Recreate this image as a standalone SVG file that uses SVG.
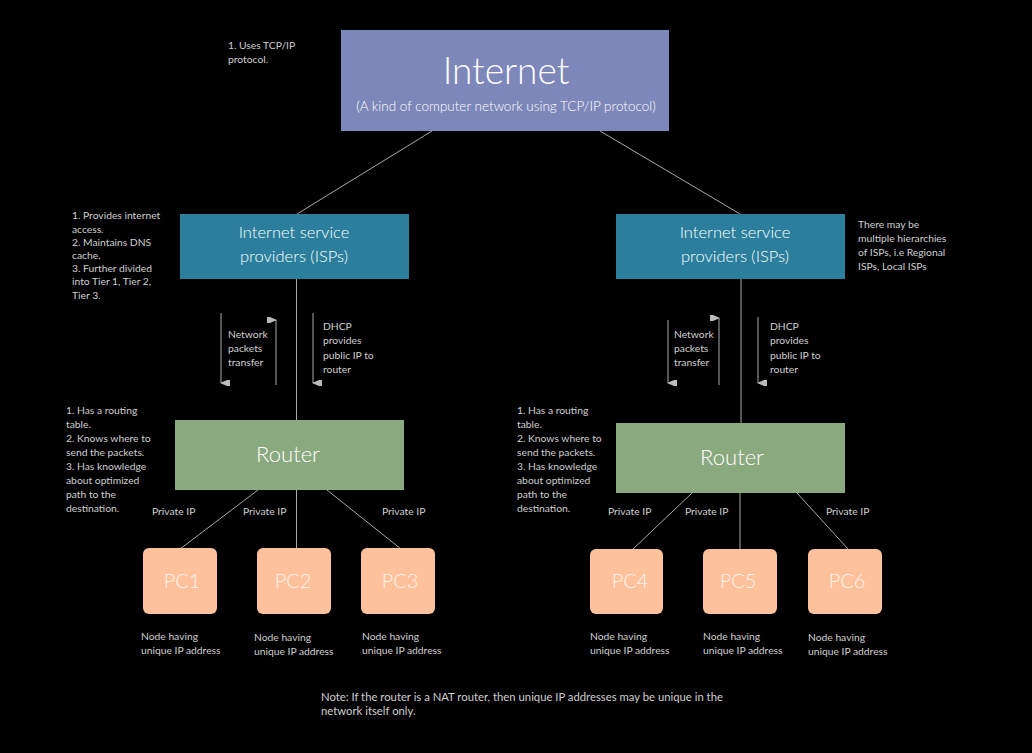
<svg xmlns="http://www.w3.org/2000/svg" width="1032" height="753" viewBox="0 0 1032 753">
<defs>
<marker id="ah" viewBox="0 0 8 10" refX="4" refY="9" markerWidth="8" markerHeight="10" markerUnits="userSpaceOnUse" orient="auto-start-reverse">
<path d="M1,0 L7,0 L7,3 L4,10 L1,3 Z" fill="#bbbbbb"/>
</marker>
<style>
.bg{fill:#000}
.conn{stroke:#a8a8a8;stroke-width:1;fill:none}
.arr{stroke:#a8a8a8;stroke-width:1;fill:none}
.note{font-family:Lato,"Liberation Sans",sans-serif;font-size:10.3px;fill:#cfcfcf}
.big{font-size:11.3px}
.inet{fill:#7d87b9}
.isp{fill:#2b7f9c}
.rtr{fill:#8aa97e}
.pc{fill:#fdc19c}
.title{font-family:Lato,"Liberation Sans",sans-serif;font-weight:300;fill:#ffffff;text-anchor:middle}
.pct{font-family:Lato,"Liberation Sans",sans-serif;font-weight:300;fill:#fff3ea;text-anchor:middle;font-size:20px}
</style>
</defs>
<rect class="bg" x="0" y="0" width="1032" height="753"/>

<g id="connectors">
<line class="conn" x1="432" y1="131" x2="297" y2="214"/>
<line class="conn" x1="600" y1="131" x2="740" y2="214"/>
<line class="conn" x1="296.5" y1="279" x2="296.5" y2="420"/>
<line class="conn" x1="741" y1="279" x2="741" y2="423"/>
<line class="conn" x1="258" y1="490" x2="180" y2="549"/>
<line class="conn" x1="296.5" y1="490" x2="296.5" y2="549"/>
<line class="conn" x1="327" y1="490" x2="401" y2="549"/>
<line class="conn" x1="692" y1="493" x2="633" y2="549"/>
<line class="conn" x1="740" y1="493" x2="740" y2="549"/>
<line class="conn" x1="797" y1="493" x2="848" y2="549"/>
<line class="arr" x1="221" y1="313" x2="221" y2="383" marker-end="url(#ah)"/>
<line class="arr" x1="276" y1="385" x2="276" y2="320" marker-end="url(#ah)"/>
<line class="arr" x1="313" y1="313" x2="313" y2="383" marker-end="url(#ah)"/>
<line class="arr" x1="668" y1="320" x2="668" y2="383" marker-end="url(#ah)"/>
<line class="arr" x1="719" y1="385" x2="719" y2="318" marker-end="url(#ah)"/>
<line class="arr" x1="758" y1="317" x2="758" y2="383" marker-end="url(#ah)"/>
</g>

<g id="internet">
<rect class="inet" x="341" y="30" width="328" height="101"/>
<text class="title" x="506" y="84" font-size="37">Internet</text>
<text class="title" x="506" y="111" font-size="13.5">(A kind of computer network using TCP/IP protocol)</text>
</g>

<g id="isp1">
<rect class="isp" x="180" y="214" width="229" height="65"/>
<text class="title" x="294" y="238" font-size="16.5">Internet service</text>
<text class="title" x="294" y="262" font-size="16.5">providers (ISPs)</text>
</g>
<g id="isp2">
<rect class="isp" x="616" y="214" width="229" height="65"/>
<text class="title" x="735" y="238" font-size="16.5">Internet service</text>
<text class="title" x="735" y="262" font-size="16.5">providers (ISPs)</text>
</g>

<g id="router1">
<rect class="rtr" x="175" y="420" width="229" height="70"/>
<text class="title" x="288" y="462" font-size="22">Router</text>
</g>
<g id="router2">
<rect class="rtr" x="616" y="423" width="229" height="70"/>
<text class="title" x="732" y="465" font-size="22">Router</text>
</g>

<g id="pc1"><rect class="pc" x="143" y="548" width="74" height="66" rx="6"/><text class="pct" x="182" y="588">PC1</text></g>
<g id="pc2"><rect class="pc" x="257" y="548" width="74" height="66" rx="6"/><text class="pct" x="293" y="588">PC2</text></g>
<g id="pc3"><rect class="pc" x="361" y="548" width="74" height="66" rx="6"/><text class="pct" x="400" y="588">PC3</text></g>
<g id="pc4"><rect class="pc" x="590" y="549" width="73" height="65" rx="6"/><text class="pct" x="630" y="588">PC4</text></g>
<g id="pc5"><rect class="pc" x="703" y="549" width="74" height="65" rx="6"/><text class="pct" x="738" y="588">PC5</text></g>
<g id="pc6"><rect class="pc" x="808" y="549" width="74" height="65" rx="6"/><text class="pct" x="847" y="588">PC6</text></g>

<g id="notes">
<text class="note" x="228" y="49">1. Uses TCP/IP</text>
<text class="note" x="228" y="63">protocol.</text>

<text class="note" x="72" y="219">1. Provides internet</text>
<text class="note" x="72" y="233">access.</text>
<text class="note" x="72" y="246">2. Maintains DNS</text>
<text class="note" x="72" y="259">cache.</text>
<text class="note" x="72" y="272">3. Further divided</text>
<text class="note" x="72" y="285">into Tier 1, Tier 2,</text>
<text class="note" x="72" y="299">Tier 3.</text>

<text class="note" x="858" y="228">There may be</text>
<text class="note" x="858" y="242">multiple hierarchies</text>
<text class="note" x="858" y="256">of ISPs, i.e Regional</text>
<text class="note" x="858" y="270">ISPs, Local ISPs</text>

<text class="note" x="228" y="338">Network</text>
<text class="note" x="228" y="352">packets</text>
<text class="note" x="228" y="366">transfer</text>
<text class="note" x="323" y="330">DHCP</text>
<text class="note" x="323" y="344">provides</text>
<text class="note" x="323" y="359">public IP to</text>
<text class="note" x="323" y="373">router</text>

<text class="note" x="674" y="338">Network</text>
<text class="note" x="674" y="352">packets</text>
<text class="note" x="674" y="366">transfer</text>
<text class="note" x="770" y="330">DHCP</text>
<text class="note" x="770" y="344">provides</text>
<text class="note" x="770" y="359">public IP to</text>
<text class="note" x="770" y="373">router</text>

<text class="note" x="66" y="414">1. Has a routing</text>
<text class="note" x="66" y="428">table.</text>
<text class="note" x="66" y="442">2. Knows where to</text>
<text class="note" x="66" y="456">send the packets.</text>
<text class="note" x="66" y="470">3. Has knowledge</text>
<text class="note" x="66" y="484">about optimized</text>
<text class="note" x="66" y="498">path to the</text>
<text class="note" x="66" y="512">destination.</text>

<text class="note" x="517" y="414">1. Has a routing</text>
<text class="note" x="517" y="428">table.</text>
<text class="note" x="517" y="442">2. Knows where to</text>
<text class="note" x="517" y="456">send the packets.</text>
<text class="note" x="517" y="470">3. Has knowledge</text>
<text class="note" x="517" y="484">about optimized</text>
<text class="note" x="517" y="498">path to the</text>
<text class="note" x="517" y="512">destination.</text>

<text class="note" x="152" y="515">Private IP</text>
<text class="note" x="243" y="515">Private IP</text>
<text class="note" x="382" y="515">Private IP</text>
<text class="note" x="608" y="515">Private IP</text>
<text class="note" x="685" y="515">Private IP</text>
<text class="note" x="826" y="515">Private IP</text>

<text class="note" x="141" y="640">Node having</text>
<text class="note" x="141" y="654">unique IP address</text>
<text class="note" x="254" y="641">Node having</text>
<text class="note" x="254" y="655">unique IP address</text>
<text class="note" x="362" y="640">Node having</text>
<text class="note" x="362" y="654">unique IP address</text>
<text class="note" x="590" y="640">Node having</text>
<text class="note" x="590" y="654">unique IP address</text>
<text class="note" x="703" y="640">Node having</text>
<text class="note" x="703" y="654">unique IP address</text>
<text class="note" x="808" y="641">Node having</text>
<text class="note" x="808" y="655">unique IP address</text>

<text class="note big" x="321" y="701">Note: If the router is a NAT router, then unique IP addresses may be unique in the</text>
<text class="note big" x="321" y="715">network itself only.</text>
</g>
</svg>
